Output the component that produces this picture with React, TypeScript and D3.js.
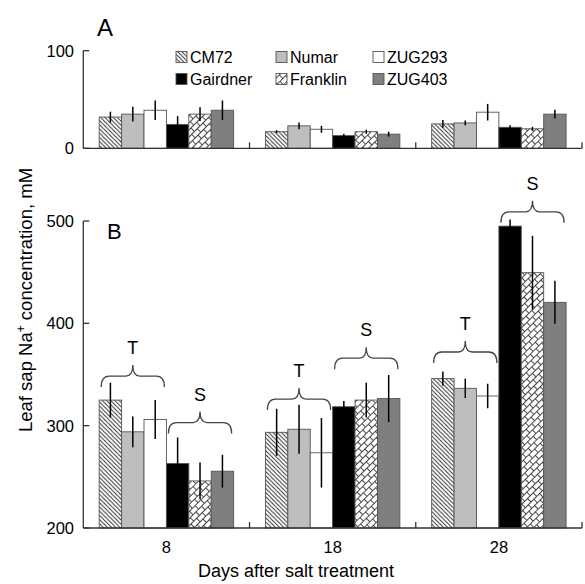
import React from "react";
import * as d3 from "d3";

const groups = ["8", "18", "28"];
const cultivars = ["CM72", "Numar", "ZUG293", "Gairdner", "Franklin", "ZUG403"];

// Panel A means (mM) per cultivar, across days 8, 18, 28
const meanA: Record<string, number[]> = {
  CM72: [32, 17, 25],
  Numar: [35, 23, 26],
  ZUG293: [39, 19.5, 37],
  Gairdner: [24.5, 13, 21.5],
  Franklin: [35, 17, 20],
  ZUG403: [39, 14.5, 35],
};
const errA: Record<string, number[]> = {
  CM72: [5.5, 1.5, 4],
  Numar: [7.5, 3.5, 2.5],
  ZUG293: [10, 3.5, 8.5],
  Gairdner: [8.5, 2, 2],
  Franklin: [7, 2, 2],
  ZUG403: [10, 2.5, 4.5],
};
// Panel B means (mM)
const meanB: Record<string, number[]> = {
  CM72: [325, 293.5, 346],
  Numar: [294, 296.5, 336.5],
  ZUG293: [306, 273.5, 329],
  Gairdner: [263, 318.5, 495],
  Franklin: [246, 325, 449.5],
  ZUG403: [255.5, 326.5, 420.5],
};
const errB: Record<string, number[]> = {
  CM72: [17, 23, 7],
  Numar: [15, 24, 9.5],
  ZUG293: [19, 34, 12],
  Gairdner: [25.5, 5.5, 6.5],
  Franklin: [18, 17, 36],
  ZUG403: [16, 23, 21],
};
const ticksA = [0, 100];
const ticksB = [200, 300, 400, 500];
// brackets: group, first cultivar, last cultivar, label, level (mM)
const brackets = [
  { g: "8", from: 0, to: 2, label: "T", level: 348.5 },
  { g: "8", from: 3, to: 5, label: "S", level: 303 },
  { g: "18", from: 0, to: 2, label: "T", level: 326 },
  { g: "18", from: 3, to: 5, label: "S", level: 366 },
  { g: "28", from: 0, to: 2, label: "T", level: 372 },
  { g: "28", from: 3, to: 5, label: "S", level: 509 },
];

const fills: Record<string, string> = {
  CM72: "url(#hatchCM)",
  Numar: "#bebebe",
  ZUG293: "#ffffff",
  Gairdner: "#000000",
  Franklin: "url(#brick)",
  ZUG403: "#7f7f7f",
};

const FONT = "'Liberation Sans', Arial, sans-serif";

export default function App() {
  const x0 = 83.3, x1 = 582;
  const xg = d3.scaleBand<string>().domain(groups).range([x0, x1]).padding(0);
  const pad = 15.9;
  const xc = d3.scaleBand<string>().domain(cultivars).range([pad, xg.bandwidth() - pad]).padding(0);
  const yA = d3.scaleLinear().domain([0, 100]).range([148.3, 50.7]);
  const yB = d3.scaleLinear().domain([200, 500]).range([528, 221]);

  const bars = (mean: Record<string, number[]>, err: Record<string, number[]>, y: d3.ScaleLinear<number, number>, base: number) =>
    groups.map((g, gi) =>
      cultivars.map((c) => {
        const bx = (xg(g) as number) + (xc(c) as number);
        const w = xc.bandwidth();
        const v = mean[c][gi];
        const e = err[c][gi];
        const top = y(v);
        const yb = y(base);
        return (
          <g key={g + c}>
            <rect x={bx} y={top} width={w} height={yb - top} fill={fills[c]} stroke="#555" strokeWidth={0.9} />
            <line x1={bx + w / 2} x2={bx + w / 2} y1={y(v + e)} y2={Math.min(yb, y(v - e))} stroke="#000" strokeWidth={1.5} />
          </g>
        );
      })
    );

  const xAxis = (yy: number) => (
    <g>
      <line x1={x0} x2={x1} y1={yy} y2={yy} stroke="#333" strokeWidth={1.3} />
      {groups.map((g) => {
        const xr = (xg(g) as number) + xg.bandwidth();
        return <line key={g} x1={xr} x2={xr} y1={yy} y2={yy - 6} stroke="#333" strokeWidth={1.3} />;
      })}
    </g>
  );

  const brace = (xa: number, xb: number, yh: number) => {
    const xm = (xa + xb) / 2;
    return `M${xa},${yh + 11} Q${xa},${yh} ${xa + 8},${yh} L${xm - 7},${yh} Q${xm},${yh} ${xm},${yh - 11} Q${xm},${yh} ${xm + 7},${yh} L${xb - 8},${yh} Q${xb},${yh} ${xb},${yh + 11}`;
  };

  const legendCols = [176, 276, 373];
  const legendRows = [57, 79];

  return (
    <svg width={585} height={584} style={{ position: "absolute", left: 0, top: 0, background: "#fff" }} fontFamily={FONT}>
      <defs>
        <pattern id="hatchCM" patternUnits="userSpaceOnUse" width={4.2} height={4.2}>
          <rect width={4.2} height={4.2} fill="#fff" />
          <path d="M-1,-1 L5.2,5.2 M-1,3.2 L1,5.2 M3.2,-1 L5.2,1" stroke="#222" strokeWidth={0.9} />
        </pattern>
        <pattern id="brick" patternUnits="userSpaceOnUse" width={8} height={10} patternTransform="rotate(-45)">
          <rect width={8} height={10} fill="#fff" />
          <path d="M0,0.5 H8 M0,5.5 H8 M0.5,0.5 V5.5 M4.5,5.5 V10.5" stroke="#333" strokeWidth={0.9} fill="none" />
        </pattern>
      </defs>

      {/* Panel A */}
      <text x={97} y={36} fontSize={24}>A</text>
      <line x1={x0} x2={x0} y1={yA(100)} y2={yA(0)} stroke="#333" strokeWidth={1.3} />
      {ticksA.map((t) => (
        <g key={t}>
          <line x1={x0} x2={x0 + 6} y1={yA(t)} y2={yA(t)} stroke="#333" strokeWidth={1.3} />
          <text x={74} y={yA(t)} dy="0.36em" textAnchor="end" fontSize={16.5}>{t}</text>
        </g>
      ))}
      {bars(meanA, errA, yA, 0)}
      {xAxis(yA(0))}

      {/* Legend */}
      {cultivars.map((c, i) => {
        const lx = legendCols[i % 3];
        const ly = legendRows[Math.floor(i / 3)];
        return (
          <g key={c}>
            <rect x={lx} y={ly - 5.5} width={11} height={11} fill={fills[c]} stroke="#555" strokeWidth={0.9} />
            <text x={lx + 14} y={ly} dy="0.36em" fontSize={16}>{c}</text>
          </g>
        );
      })}

      {/* Panel B */}
      <text x={107} y={239} fontSize={22}>B</text>
      <line x1={x0} x2={x0} y1={yB(500)} y2={yB(200)} stroke="#333" strokeWidth={1.3} />
      {ticksB.map((t) => (
        <g key={t}>
          <line x1={x0} x2={x0 + 6} y1={yB(t)} y2={yB(t)} stroke="#333" strokeWidth={1.3} />
          <text x={74} y={yB(t)} dy="0.36em" textAnchor="end" fontSize={16.5}>{t}</text>
        </g>
      ))}
      {bars(meanB, errB, yB, 200)}
      {xAxis(yB(200))}
      {groups.map((g) => (
        <text key={g} x={(xg(g) as number) + xg.bandwidth() / 2} y={547} dy="0.36em" textAnchor="middle" fontSize={16.5}>{g}</text>
      ))}

      {brackets.map((b, i) => {
        const xa = (xg(b.g) as number) + (xc(cultivars[b.from]) as number) + 2;
        const xb = (xg(b.g) as number) + (xc(cultivars[b.to]) as number) + xc.bandwidth() - 2;
        const yh = yB(b.level);
        return (
          <g key={i}>
            <path d={brace(xa, xb, yh)} fill="none" stroke="#444" strokeWidth={1.3} />
            <text x={(xa + xb) / 2} y={yh - 22} textAnchor="middle" fontSize={18}>{b.label}</text>
          </g>
        );
      })}

      {/* axis titles */}
      <text x={296} y={571} dy="0.36em" textAnchor="middle" fontSize={18}>Days after salt treatment</text>
      <text transform="translate(32,300) rotate(-90)" textAnchor="middle" fontSize={18.5}>
        Leaf sap Na<tspan dy={-7} fontSize={12}>+</tspan><tspan dy={7}> concentration, mM</tspan>
      </text>
    </svg>
  );
}
